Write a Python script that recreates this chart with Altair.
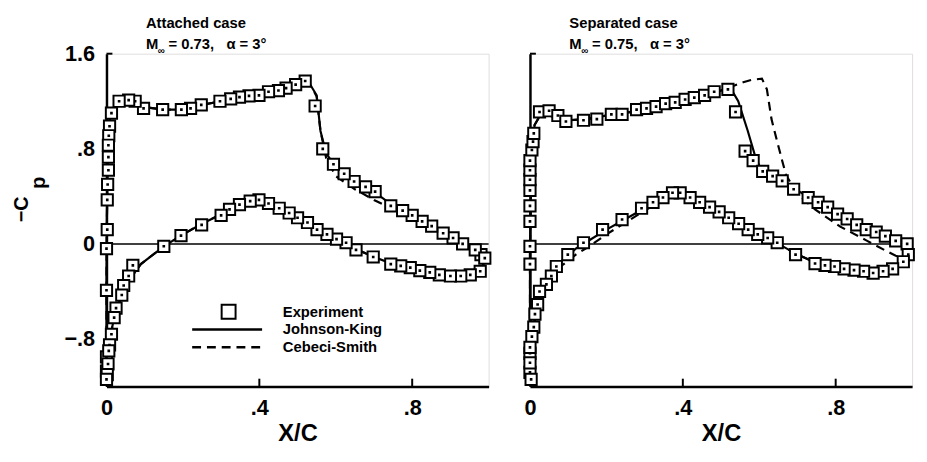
import altair as alt
import pandas as pd

FONT = "Liberation Sans"

# ---------------- Attached case (left panel) ----------------
L_UP_X = [0.000, 0.000, 0.000, 0.000, 0.002, 0.002, 0.003, 0.005, 0.005, 0.005, 0.006, 0.008,
          0.013, 0.033, 0.058, 0.075, 0.097, 0.147, 0.196, 0.220, 0.248, 0.297, 0.325, 0.348,
          0.373, 0.399, 0.424, 0.450, 0.470, 0.495, 0.520, 0.546, 0.566, 0.594, 0.622, 0.648,
          0.678, 0.703, 0.744, 0.775, 0.800, 0.826, 0.851, 0.881, 0.907, 0.932, 0.965, 0.980]
L_UP_CP = [-1.07, -0.95, -0.39, -0.04, 0.12, 0.37, 0.50, 0.62, 0.73, 0.83, 0.91, 0.99,
           1.10, 1.20, 1.21, 1.20, 1.14, 1.13, 1.13, 1.14, 1.17, 1.20, 1.22, 1.235,
           1.245, 1.25, 1.28, 1.29, 1.31, 1.34, 1.37, 1.16, 0.80, 0.67, 0.59, 0.525,
           0.48, 0.44, 0.32, 0.28, 0.24, 0.19, 0.15, 0.09, 0.05, 0.00, -0.05, -0.09]
L_LO_X = [0.000, 0.002, 0.004, 0.006, 0.008, 0.013, 0.020, 0.025, 0.040, 0.045, 0.058, 0.069,
          0.150, 0.195, 0.249, 0.300, 0.322, 0.348, 0.376, 0.399, 0.424, 0.452, 0.478, 0.500,
          0.526, 0.551, 0.577, 0.602, 0.627, 0.653, 0.698, 0.744, 0.770, 0.795, 0.820, 0.846,
          0.871, 0.900, 0.927, 0.952, 0.978, 0.990]
L_LO_CP = [-1.14, -1.10, -1.01, -0.90, -0.85, -0.76, -0.62, -0.54, -0.43, -0.35, -0.27, -0.18,
           -0.02, 0.07, 0.16, 0.24, 0.29, 0.33, 0.36, 0.37, 0.34, 0.30, 0.26, 0.22,
           0.18, 0.12, 0.08, 0.04, 0.01, -0.05, -0.11, -0.17, -0.185, -0.20, -0.225, -0.24,
           -0.26, -0.27, -0.27, -0.26, -0.23, -0.12]
# computed curves: upper TE -> leading edge -> lower TE
L_JK_X = [1.0, 0.95, 0.90, 0.85, 0.80, 0.75, 0.70, 0.65, 0.60, 0.575, 0.56, 0.55, 0.535, 0.52,
          0.50, 0.45, 0.40, 0.35, 0.30, 0.25, 0.20, 0.15, 0.10, 0.06, 0.03, 0.01, 0.004, 0.001,
          0.0, 0.0, 0.003, 0.01, 0.02, 0.04, 0.06, 0.09, 0.15, 0.20, 0.25, 0.30, 0.35, 0.40,
          0.45, 0.50, 0.55, 0.60, 0.65, 0.70, 0.75, 0.80, 0.85, 0.90, 0.95, 0.98, 1.0]
L_JK_CP = [-0.08, -0.03, 0.06, 0.15, 0.24, 0.32, 0.44, 0.52, 0.65, 0.76, 0.95, 1.25, 1.33, 1.38,
           1.35, 1.29, 1.25, 1.23, 1.20, 1.17, 1.13, 1.13, 1.15, 1.19, 1.20, 1.10, 0.80, 0.20,
           -0.30, -1.10, -0.95, -0.78, -0.62, -0.43, -0.30, -0.17, -0.02, 0.08, 0.17, 0.25, 0.33, 0.37,
           0.31, 0.22, 0.12, 0.04, -0.04, -0.11, -0.17, -0.205, -0.24, -0.265, -0.26, -0.21, -0.08]
L_CS_X = [1.0, 0.95, 0.90, 0.85, 0.80, 0.75, 0.70, 0.65, 0.60, 0.575, 0.56, 0.55, 0.535, 0.52,
          0.50, 0.45, 0.40, 0.35, 0.30, 0.25, 0.20, 0.15, 0.10, 0.06, 0.03, 0.01, 0.004, 0.001,
          0.0, 0.0, 0.003, 0.01, 0.02, 0.04, 0.06, 0.09, 0.15, 0.20, 0.25, 0.30, 0.35, 0.40,
          0.45, 0.50, 0.55, 0.60, 0.65, 0.70, 0.75, 0.80, 0.85, 0.90, 0.95, 0.98, 1.0]
L_CS_CP = [-0.08, -0.04, 0.05, 0.13, 0.21, 0.29, 0.37, 0.46, 0.57, 0.72, 0.95, 1.24, 1.33, 1.38,
           1.35, 1.29, 1.25, 1.23, 1.20, 1.17, 1.13, 1.13, 1.15, 1.19, 1.20, 1.10, 0.80, 0.20,
           -0.30, -1.10, -0.95, -0.78, -0.62, -0.43, -0.30, -0.17, -0.02, 0.08, 0.17, 0.25, 0.33, 0.37,
           0.31, 0.22, 0.12, 0.04, -0.04, -0.11, -0.17, -0.205, -0.24, -0.265, -0.26, -0.21, -0.08]

# ---------------- Separated case (right panel) ----------------
R_UP_X = [0.000, 0.000, 0.000, 0.000, 0.000, 0.000, 0.000, 0.000, 0.000, 0.000, 0.005, 0.008,
          0.010, 0.025, 0.050, 0.073, 0.094, 0.140, 0.175, 0.213, 0.241, 0.279, 0.305, 0.330,
          0.355, 0.380, 0.406, 0.430, 0.457, 0.482, 0.518, 0.538, 0.563, 0.584, 0.609, 0.635,
          0.660, 0.690, 0.728, 0.754, 0.779, 0.805, 0.830, 0.855, 0.880, 0.906, 0.930, 0.957,
          0.987]
R_UP_CP = [-1.08, -0.92, -0.17, -0.02, 0.19, 0.32, 0.45, 0.54, 0.62, 0.70, 0.79, 0.86,
           0.93, 1.11, 1.12, 1.08, 1.03, 1.04, 1.05, 1.09, 1.09, 1.13, 1.14, 1.155,
           1.18, 1.19, 1.215, 1.23, 1.25, 1.28, 1.30, 1.11, 0.78, 0.70, 0.61, 0.57,
           0.53, 0.46, 0.39, 0.35, 0.31, 0.25, 0.21, 0.16, 0.12, 0.10, 0.065, 0.025,
           0.00]
R_LO_X = [0.003, 0.000, 0.000, 0.005, 0.010, 0.013, 0.020, 0.025, 0.043, 0.056, 0.069, 0.099,
          0.140, 0.190, 0.241, 0.292, 0.322, 0.348, 0.373, 0.393, 0.419, 0.444, 0.470, 0.495,
          0.520, 0.546, 0.571, 0.596, 0.622, 0.647, 0.695, 0.746, 0.772, 0.797, 0.822, 0.848,
          0.873, 0.898, 0.924, 0.949, 0.977, 0.990]
R_LO_CP = [-1.14, -1.00, -0.87, -0.78, -0.70, -0.59, -0.51, -0.40, -0.34, -0.27, -0.19, -0.09,
           0.01, 0.12, 0.205, 0.30, 0.35, 0.39, 0.43, 0.43, 0.39, 0.35, 0.31, 0.27,
           0.22, 0.17, 0.12, 0.08, 0.05, 0.01, -0.09, -0.165, -0.18, -0.19, -0.21, -0.22,
           -0.23, -0.245, -0.23, -0.21, -0.15, -0.09]
R_JK_X = [1.0, 0.95, 0.90, 0.85, 0.80, 0.75, 0.70, 0.66, 0.62, 0.60, 0.59, 0.57, 0.545, 0.525,
          0.50, 0.45, 0.40, 0.35, 0.30, 0.25, 0.20, 0.15, 0.10, 0.06, 0.03, 0.012, 0.004, 0.0,
          0.0, 0.004, 0.012, 0.025, 0.05, 0.08, 0.12, 0.15, 0.20, 0.25, 0.30, 0.35, 0.39,
          0.45, 0.50, 0.55, 0.60, 0.65, 0.70, 0.75, 0.80, 0.85, 0.90, 0.95, 0.98, 1.0]
R_JK_CP = [-0.02, 0.03, 0.09, 0.17, 0.26, 0.35, 0.45, 0.53, 0.60, 0.66, 0.73, 0.95, 1.20, 1.31,
           1.29, 1.25, 1.21, 1.17, 1.14, 1.10, 1.08, 1.05, 1.04, 1.07, 1.10, 1.00, 0.70, 0.00,
           -1.10, -0.85, -0.65, -0.45, -0.28, -0.15, -0.04, 0.02, 0.12, 0.21, 0.30, 0.39, 0.43,
           0.35, 0.26, 0.16, 0.07, 0.00, -0.09, -0.16, -0.19, -0.22, -0.24, -0.21, -0.15, -0.05]
R_CS_X = [1.0, 0.957, 0.93, 0.88, 0.812, 0.746, 0.70, 0.67, 0.66, 0.647, 0.632, 0.62, 0.607,
          0.58, 0.558, 0.525, 0.50, 0.45, 0.40, 0.35, 0.30, 0.25, 0.20, 0.15, 0.10, 0.06, 0.03,
          0.012, 0.004, 0.0, 0.0, 0.004, 0.012, 0.025, 0.05, 0.08, 0.12, 0.15, 0.20, 0.25, 0.30,
          0.35, 0.39, 0.45, 0.50, 0.55, 0.60, 0.65, 0.70, 0.75, 0.80, 0.85, 0.90, 0.95, 0.98, 1.0]
R_CS_CP = [-0.12, -0.10, -0.055, 0.03, 0.145, 0.29, 0.42, 0.58, 0.70, 0.86, 1.05, 1.30, 1.39,
           1.38, 1.36, 1.32, 1.29, 1.25, 1.21, 1.17, 1.14, 1.10, 1.08, 1.05, 1.04, 1.07, 1.10,
           1.00, 0.70, 0.00, -1.10, -0.85, -0.65, -0.46, -0.31, -0.19, -0.09, -0.03, 0.08, 0.18, 0.28,
           0.37, 0.42, 0.35, 0.26, 0.16, 0.07, 0.00, -0.09, -0.16, -0.19, -0.22, -0.24, -0.21, -0.16, -0.12]

X_TICKS = [0, 0.4, 0.8]
Y_TICKS = [-0.8, 0, 0.8, 1.6]
TITLES = ["Attached case", "Separated case"]
MACH_TEXT = ["=\u00a00.73,\u00a0\u00a0\u00a0\u03b1 = 3\u00b0", "=\u00a00.75,\u00a0\u00a0\u00a0\u03b1 = 3\u00b0"]
LEGEND_LABELS = ["Experiment", "Johnson-King", "Cebeci-Smith"]

W, H = 388, 338
LABEL_EXPR = "datum.value == 0 ? '0' : replace(format(datum.value, '.1f'), '0.', '.')"
SQUARE = "M-1,-1H1V1H-1Z M-0.06,-0.06H0.06V0.06H-0.06Z"


def text_layer(txt, x, y, size, **kw):
    return alt.Chart(pd.DataFrame({"t": [txt]})).mark_text(
        font=FONT, fontSize=size, fontWeight="bold", color="black",
        align=kw.pop("align", "left"), baseline=kw.pop("baseline", "alphabetic"), **kw
    ).encode(x=alt.value(x), y=alt.value(y), text="t:N")


def panel(up_x, up_cp, lo_x, lo_cp, jk_x, jk_cp, cs_x, cs_cp, title, mach,
          up_sign, show_labels, with_legend):
    xs = alt.Scale(domain=[0, 1.0], nice=False, zero=False)
    ys = alt.Scale(domain=[-1.2, 1.6], nice=False, zero=False)
    xaxis = alt.Axis(values=X_TICKS, labelExpr=LABEL_EXPR, ticks=False, grid=False,
                     domainColor="black", domainWidth=2.5, labelFont=FONT, labelFontSize=22,
                     labelFontWeight="bold", labelColor="black", labelPadding=11,
                     labelFlush=False, title="X/C", titleFont=FONT, titleFontSize=24,
                     titleFontWeight="bold", titleColor="black", titlePadding=4)
    yaxis = alt.Axis(values=Y_TICKS, labelExpr=LABEL_EXPR, ticks=False, grid=False,
                     domainColor="black", domainWidth=2.5, labels=show_labels,
                     labelFont=FONT, labelFontSize=22, labelFontWeight="bold",
                     labelColor="black", labelPadding=12, labelFlush=False, title=None)
    X = alt.X("x:Q", scale=xs, axis=xaxis)
    Y = alt.Y("cp:Q", scale=ys, axis=yaxis)

    exp = pd.DataFrame({
        "x": up_x + lo_x,
        "cp": up_cp + lo_cp,
        "o": [up_sign * v for v in up_x] + [3 - v for v in lo_x],
    })
    jk = pd.DataFrame({"x": jk_x, "cp": jk_cp, "i": list(range(len(jk_x)))})
    cs = pd.DataFrame({"x": cs_x, "cp": cs_cp, "i": list(range(len(cs_x)))})

    layers = [
        alt.Chart(pd.DataFrame({"cp": [0.0]})).mark_rule(color="black", strokeWidth=1.5)
        .encode(y=Y),
        alt.Chart(pd.DataFrame({"cp": Y_TICKS})).mark_rule(color="black", strokeWidth=2)
        .encode(y=Y, x=alt.value(0), x2=alt.value(6)),
        alt.Chart(pd.DataFrame({"x": X_TICKS[1:]})).mark_rule(color="black", strokeWidth=2)
        .encode(x=X, y=alt.value(H), y2=alt.value(H - 8)),
        alt.Chart(cs).mark_line(color="black", strokeWidth=2.2, strokeDash=[9, 6])
        .encode(x=X, y=Y, order="i:Q"),
        alt.Chart(jk).mark_line(color="black", strokeWidth=2.2)
        .encode(x=X, y=Y, order="i:Q"),
        alt.Chart(exp).mark_point(shape=SQUARE, size=130, filled=True, fill="white",
                                  stroke="black", strokeWidth=2, opacity=1)
        .encode(x=X, y=Y, order="o:Q"),
        text_layer(title, 40, -26, 15),
        text_layer("M", 40, -5, 15),
        text_layer("\u221e", 52, 0, 10),
        text_layer(mach, 63, -5, 15),
    ]
    if with_legend:
        leg_y = [262, 280, 298]
        layers += [
            alt.Chart(pd.DataFrame({"t": [LEGEND_LABELS[0]]})).mark_point(
                shape="square", size=200, filled=True, fill="white", stroke="black",
                strokeWidth=2, opacity=1).encode(x=alt.value(124), y=alt.value(leg_y[0])),
            alt.Chart(pd.DataFrame({"t": [LEGEND_LABELS[1]]})).mark_rule(
                color="black", strokeWidth=2.5).encode(
                x=alt.value(87), x2=alt.value(158), y=alt.value(leg_y[1])),
            alt.Chart(pd.DataFrame({"t": [LEGEND_LABELS[2]]})).mark_rule(
                color="black", strokeWidth=2.5, strokeDash=[9, 6]).encode(
                x=alt.value(87), x2=alt.value(158), y=alt.value(leg_y[2])),
        ]
        for lab, yy in zip(LEGEND_LABELS, leg_y):
            layers.append(text_layer(lab, 179, yy, 15, baseline="middle"))
    if show_labels:
        layers.append(text_layer("\u2212C", -80, 158, 20, align="center", angle=270))
        layers.append(text_layer("p", -62, 131, 20, align="center", angle=270))
    return alt.layer(*layers).properties(width=W, height=H)


left = panel(L_UP_X, L_UP_CP, L_LO_X, L_LO_CP, L_JK_X, L_JK_CP, L_CS_X, L_CS_CP,
             TITLES[0], MACH_TEXT[0], -1, True, True)
right = panel(R_UP_X, R_UP_CP, R_LO_X, R_LO_CP, R_JK_X, R_JK_CP, R_CS_X, R_CS_CP,
              TITLES[1], MACH_TEXT[1], 1, False, False)

chart = alt.hconcat(left, right, spacing=24).properties(
    padding={"left": 3, "top": 4, "right": 0, "bottom": 0}
).configure_view(stroke=None).configure(background="white")

chart.save("out.html", embed_options={"renderer": "svg", "actions": False})
